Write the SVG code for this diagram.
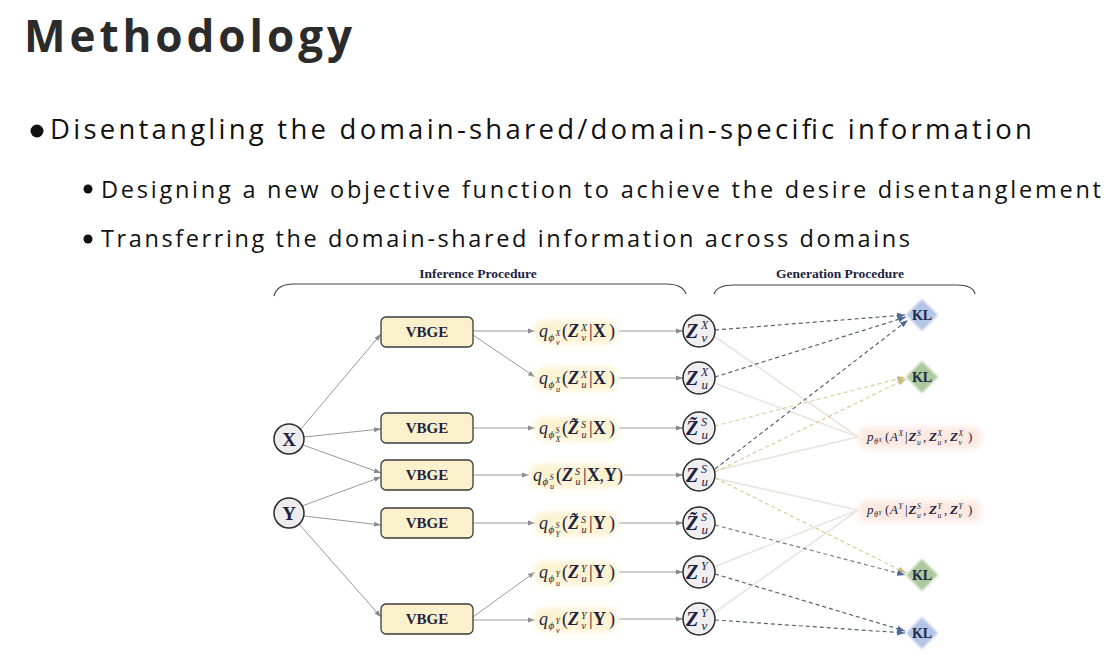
<svg xmlns="http://www.w3.org/2000/svg" width="1118" height="659" viewBox="0 0 1118 659">
<style>
.title{font-family:"Open Sans","Liberation Sans",sans-serif;font-weight:700;fill:#2b2b2b}
.b1{font-family:"Open Sans","Liberation Sans",sans-serif;fill:#111}
.hdr{font-family:"Liberation Serif",serif;font-weight:700;font-size:13.5px;fill:#1c2340;text-anchor:middle}
.brace{fill:none;stroke:#444;stroke-width:1.2}
.vb rect{fill:#fbf0cc;stroke:#3a3a3a;stroke-width:1.3}
.vb text{font-family:"Liberation Serif",serif;font-weight:700;font-size:15px;fill:#1c2340;text-anchor:middle}
.in circle{fill:#efecef;stroke:#2a2a2a;stroke-width:1.5}
.in text{font-family:"Liberation Serif",serif;font-weight:700;font-size:19px;fill:#1c2340;text-anchor:middle}
.zc circle{fill:#f0eef1;stroke:#2a2a2a;stroke-width:1.5}
.m{font-family:"Liberation Serif",serif;fill:#1c2340}
.zb{font-family:"Liberation Serif",serif;font-weight:700;font-style:italic;fill:#1c2340}
.it{font-family:"Liberation Serif",serif;font-style:italic;fill:#1c2340}
.bd{font-family:"Liberation Serif",serif;font-weight:700;fill:#1c2340}
.kl text{font-family:"Liberation Serif",serif;font-weight:700;font-size:14px;fill:#1c2a4a;text-anchor:middle}
.solid{stroke:#9a9a9a;stroke-width:1;fill:none;marker-end:url(#ag)}
.faint{stroke:#ebe4de;stroke-width:1.6;fill:none}
.dd{stroke:#5b6170;stroke-width:1.2;stroke-dasharray:4 3;fill:none;marker-end:url(#ad)}
.dy{stroke:#d9cc96;stroke-width:1.2;stroke-dasharray:4 3;fill:none;marker-end:url(#ay)}
</style>
<defs>
<marker id="ag" markerUnits="userSpaceOnUse" markerWidth="8" markerHeight="6" refX="7" refY="3" orient="auto"><path d="M0,0.5 L7,3 L0,5.5 Z" fill="#8a8a8a"/></marker>
<marker id="ad" markerUnits="userSpaceOnUse" markerWidth="9" markerHeight="7" refX="8" refY="3.5" orient="auto"><path d="M0,0.5 L8,3.5 L0,6.5 Z" fill="#4f6a95"/></marker>
<marker id="ay" markerUnits="userSpaceOnUse" markerWidth="9" markerHeight="7" refX="8" refY="3.5" orient="auto"><path d="M0,0.5 L8,3.5 L0,6.5 Z" fill="#c8bb80"/></marker>
<filter id="blur" x="-20%" y="-50%" width="140%" height="200%"><feGaussianBlur stdDeviation="3"/></filter>
<filter id="soft" x="-30%" y="-30%" width="160%" height="160%"><feGaussianBlur stdDeviation="1"/></filter>
</defs>
<rect width="1118" height="659" fill="#ffffff"/>

<g id="slide-text">
<text class="title" x="24" y="52" font-size="44" textLength="328" lengthAdjust="spacing">Methodology</text>
<circle cx="37" cy="131" r="6.5" fill="#111"/>
<text class="b1" x="50" y="139" font-size="27.5" textLength="982" lengthAdjust="spacing">Disentangling the domain-shared/domain-specific information</text>
<circle cx="88" cy="189" r="4.5" fill="#111"/>
<text class="b1" x="101" y="198" font-size="23.5" textLength="1000" lengthAdjust="spacing">Designing a new objective function to achieve the desire disentanglement</text>
<circle cx="88" cy="239" r="4.5" fill="#111"/>
<text class="b1" x="101" y="247" font-size="23.5" textLength="809" lengthAdjust="spacing">Transferring the domain-shared information across domains</text>
</g>

<g id="headers">
<text class="hdr" x="478" y="278">Inference Procedure</text>
<path class="brace" d="M274,296 C276,288 282,284 294,284 L666,284 C678,284 684,288 686,294"/>
<text class="hdr" x="840" y="278">Generation Procedure</text>
<path class="brace" d="M714,294 C716,288 722,285 734,285 L956,285 C968,285 974,288 975,294"/>
</g>

<g id="connectors">
<line class="solid" x1="300" y1="430" x2="381" y2="334"/>
<line class="solid" x1="304" y1="437" x2="381" y2="429"/>
<line class="solid" x1="303" y1="445" x2="381" y2="473"/>
<line class="solid" x1="302" y1="506" x2="381" y2="477"/>
<line class="solid" x1="304" y1="516" x2="381" y2="525"/>
<line class="solid" x1="299" y1="524" x2="381" y2="617"/>
<line class="solid" x1="473" y1="331" x2="535" y2="331"/>
<line class="solid" x1="473" y1="335" x2="535" y2="377"/>
<line class="solid" x1="473" y1="428" x2="535" y2="428"/>
<line class="solid" x1="473" y1="475" x2="529" y2="475"/>
<line class="solid" x1="473" y1="523" x2="535" y2="523"/>
<line class="solid" x1="473" y1="617" x2="535" y2="572"/>
<line class="solid" x1="473" y1="620" x2="535" y2="620"/>
<line class="solid" x1="619" y1="331" x2="683" y2="331"/>
<line class="solid" x1="619" y1="378" x2="683" y2="378"/>
<line class="solid" x1="619" y1="428" x2="683" y2="428"/>
<line class="solid" x1="624" y1="475" x2="683" y2="475"/>
<line class="solid" x1="619" y1="523" x2="683" y2="523"/>
<line class="solid" x1="619" y1="572" x2="683" y2="572"/>
<line class="solid" x1="619" y1="619" x2="683" y2="619"/>
<line class="faint" x1="714" y1="336" x2="858" y2="437"/>
<line class="faint" x1="714" y1="383" x2="858" y2="437"/>
<line class="faint" x1="714" y1="471" x2="858" y2="437"/>
<line class="faint" x1="714" y1="478" x2="858" y2="510"/>
<line class="faint" x1="714" y1="567" x2="858" y2="510"/>
<line class="faint" x1="714" y1="613" x2="858" y2="510"/>
<line class="dd" x1="715" y1="330" x2="905" y2="315"/>
<line class="dd" x1="715" y1="377" x2="906" y2="317"/>
<line class="dd" x1="715" y1="469" x2="908" y2="320"/>
<line class="dy" x1="715" y1="426" x2="905" y2="377"/>
<line class="dy" x1="715" y1="472" x2="906" y2="379"/>
<line class="dy" x1="715" y1="478" x2="906" y2="573"/>
<line class="dd" x1="715" y1="525" x2="905" y2="575" style="stroke:#7a7f88"/>
<line class="dd" x1="715" y1="574" x2="905" y2="631"/>
<line class="dd" x1="715" y1="620" x2="905" y2="633"/>
</g>

<g id="node-X" class="in"><circle cx="289" cy="439" r="15"/><text x="289" y="445.5">X</text></g>
<g id="node-Y" class="in"><circle cx="289" cy="513" r="15"/><text x="289" y="519.5">Y</text></g>

<g id="vbge-1" class="vb"><rect x="381" y="317" width="92" height="30" rx="5"/><text x="427" y="337">VBGE</text></g>
<g id="vbge-2" class="vb"><rect x="381" y="413" width="92" height="30" rx="5"/><text x="427" y="433">VBGE</text></g>
<g id="vbge-3" class="vb"><rect x="381" y="460" width="92" height="30" rx="5"/><text x="427" y="480">VBGE</text></g>
<g id="vbge-4" class="vb"><rect x="381" y="508" width="92" height="30" rx="5"/><text x="427" y="528">VBGE</text></g>
<g id="vbge-5" class="vb"><rect x="381" y="604" width="92" height="30" rx="5"/><text x="427" y="624">VBGE</text></g>

<g id="q-1" transform="translate(539,337)">
<rect x="-4" y="-17" width="82" height="24" rx="8" fill="#fcf3d2" filter="url(#blur)"/>
<text class="it" x="0" y="0" font-size="18">q</text><text class="it" x="9.5" y="4" font-size="11">ϕ</text><text class="it" x="16.5" y="-1" font-size="8">X</text><text class="it" x="17" y="8" font-size="8">v</text>
<text class="m" x="23" y="0" font-size="18">(</text><text class="zb" x="29" y="0" font-size="18">Z</text><text class="it" x="42" y="-6" font-size="10">X</text><text class="it" x="42.5" y="4" font-size="10">v</text>
<text class="m" x="50" y="0" font-size="18">|</text><text class="bd" x="54" y="0" font-size="18">X</text><text class="m" x="70" y="0" font-size="18">)</text>
</g>
<g id="q-2" transform="translate(539,384)">
<rect x="-4" y="-17" width="82" height="24" rx="8" fill="#fcf3d2" filter="url(#blur)"/>
<text class="it" x="0" y="0" font-size="18">q</text><text class="it" x="9.5" y="4" font-size="11">ϕ</text><text class="it" x="16.5" y="-1" font-size="8">X</text><text class="it" x="17" y="8" font-size="8">u</text>
<text class="m" x="23" y="0" font-size="18">(</text><text class="zb" x="29" y="0" font-size="18">Z</text><text class="it" x="42" y="-6" font-size="10">X</text><text class="it" x="42.5" y="4" font-size="10">u</text>
<text class="m" x="50" y="0" font-size="18">|</text><text class="bd" x="54" y="0" font-size="18">X</text><text class="m" x="70" y="0" font-size="18">)</text>
</g>
<g id="q-3" transform="translate(539,434)">
<rect x="-4" y="-17" width="82" height="24" rx="8" fill="#fcf3d2" filter="url(#blur)"/>
<text class="it" x="0" y="0" font-size="18">q</text><text class="it" x="9.5" y="4" font-size="11">ϕ</text><text class="it" x="16.5" y="-1" font-size="8">S</text><text class="it" x="16.5" y="8" font-size="8">X</text>
<text class="m" x="23" y="0" font-size="18">(</text><text class="zb" x="29" y="0" font-size="18">Z&#771;</text><text class="it" x="42" y="-6" font-size="10">S</text><text class="it" x="42.5" y="4" font-size="10">u</text>
<text class="m" x="50" y="0" font-size="18">|</text><text class="bd" x="54" y="0" font-size="18">X</text><text class="m" x="70" y="0" font-size="18">)</text>
</g>
<g id="q-4" transform="translate(533,481)">
<rect x="-4" y="-17" width="94" height="24" rx="8" fill="#fcf3d2" filter="url(#blur)"/>
<text class="it" x="0" y="0" font-size="18">q</text><text class="it" x="9.5" y="4" font-size="11">ϕ</text><text class="it" x="16.5" y="-1" font-size="8">S</text><text class="it" x="17" y="8" font-size="8">u</text>
<text class="m" x="23" y="0" font-size="18">(</text><text class="zb" x="29" y="0" font-size="18">Z</text><text class="it" x="42" y="-6" font-size="10">S</text><text class="it" x="42.5" y="4" font-size="10">u</text>
<text class="m" x="50" y="0" font-size="18">|</text><text class="bd" x="54" y="0" font-size="18">X</text><text class="m" x="66.5" y="0" font-size="18">,</text><text class="bd" x="71" y="0" font-size="18">Y</text><text class="m" x="84" y="0" font-size="18">)</text>
</g>
<g id="q-5" transform="translate(539,529)">
<rect x="-4" y="-17" width="82" height="24" rx="8" fill="#fcf3d2" filter="url(#blur)"/>
<text class="it" x="0" y="0" font-size="18">q</text><text class="it" x="9.5" y="4" font-size="11">ϕ</text><text class="it" x="16.5" y="-1" font-size="8">S</text><text class="it" x="16.5" y="8" font-size="8">Y</text>
<text class="m" x="23" y="0" font-size="18">(</text><text class="zb" x="29" y="0" font-size="18">Z&#771;</text><text class="it" x="42" y="-6" font-size="10">S</text><text class="it" x="42.5" y="4" font-size="10">u</text>
<text class="m" x="50" y="0" font-size="18">|</text><text class="bd" x="54" y="0" font-size="18">Y</text><text class="m" x="70" y="0" font-size="18">)</text>
</g>
<g id="q-6" transform="translate(539,578)">
<rect x="-4" y="-17" width="82" height="24" rx="8" fill="#fcf3d2" filter="url(#blur)"/>
<text class="it" x="0" y="0" font-size="18">q</text><text class="it" x="9.5" y="4" font-size="11">ϕ</text><text class="it" x="16.5" y="-1" font-size="8">Y</text><text class="it" x="17" y="8" font-size="8">u</text>
<text class="m" x="23" y="0" font-size="18">(</text><text class="zb" x="29" y="0" font-size="18">Z</text><text class="it" x="42" y="-6" font-size="10">Y</text><text class="it" x="42.5" y="4" font-size="10">u</text>
<text class="m" x="50" y="0" font-size="18">|</text><text class="bd" x="54" y="0" font-size="18">Y</text><text class="m" x="70" y="0" font-size="18">)</text>
</g>
<g id="q-7" transform="translate(539,625)">
<rect x="-4" y="-17" width="82" height="24" rx="8" fill="#fcf3d2" filter="url(#blur)"/>
<text class="it" x="0" y="0" font-size="18">q</text><text class="it" x="9.5" y="4" font-size="11">ϕ</text><text class="it" x="16.5" y="-1" font-size="8">Y</text><text class="it" x="17" y="8" font-size="8">v</text>
<text class="m" x="23" y="0" font-size="18">(</text><text class="zb" x="29" y="0" font-size="18">Z</text><text class="it" x="42" y="-6" font-size="10">Y</text><text class="it" x="42.5" y="4" font-size="10">v</text>
<text class="m" x="50" y="0" font-size="18">|</text><text class="bd" x="54" y="0" font-size="18">Y</text><text class="m" x="70" y="0" font-size="18">)</text>
</g>

<g id="z-1" class="zc"><circle cx="699" cy="331" r="16"/><text class="zb" x="686" y="338" font-size="20">Z</text><text class="it" x="701" y="329" font-size="12">X</text><text class="it" x="701.5" y="342" font-size="13">v</text></g>
<g id="z-2" class="zc"><circle cx="699" cy="378" r="16"/><text class="zb" x="686" y="385" font-size="20">Z</text><text class="it" x="701" y="376" font-size="12">X</text><text class="it" x="701.5" y="389" font-size="13">u</text></g>
<g id="z-3" class="zc"><circle cx="699" cy="428" r="16"/><text class="zb" x="686" y="435" font-size="20">Z&#771;</text><text class="it" x="701" y="426" font-size="12">S</text><text class="it" x="701.5" y="439" font-size="13">u</text></g>
<g id="z-4" class="zc"><circle cx="699" cy="475" r="16"/><text class="zb" x="686" y="482" font-size="20">Z</text><text class="it" x="701" y="473" font-size="12">S</text><text class="it" x="701.5" y="486" font-size="13">u</text></g>
<g id="z-5" class="zc"><circle cx="699" cy="523" r="16"/><text class="zb" x="686" y="530" font-size="20">Z&#771;</text><text class="it" x="701" y="521" font-size="12">S</text><text class="it" x="701.5" y="534" font-size="13">u</text></g>
<g id="z-6" class="zc"><circle cx="699" cy="572" r="16"/><text class="zb" x="686" y="579" font-size="20">Z</text><text class="it" x="701" y="570" font-size="12">Y</text><text class="it" x="701.5" y="583" font-size="13">u</text></g>
<g id="z-7" class="zc"><circle cx="699" cy="619" r="16"/><text class="zb" x="686" y="626" font-size="20">Z</text><text class="it" x="701" y="617" font-size="12">Y</text><text class="it" x="701.5" y="630" font-size="13">v</text></g>

<g id="kl-1" class="kl"><path d="M922,299 L938,315 L922,331 L906,315 Z" fill="#b5c5e6" filter="url(#soft)"/><text x="922" y="320">KL</text></g>
<g id="kl-2" class="kl"><path d="M922,361 L938,377 L922,393 L906,377 Z" fill="#abc99c" filter="url(#soft)"/><text x="922" y="382">KL</text></g>
<g id="kl-3" class="kl"><path d="M922,559 L938,575 L922,591 L906,575 Z" fill="#abc99c" filter="url(#soft)"/><text x="922" y="580">KL</text></g>
<g id="kl-4" class="kl"><path d="M922,617 L938,633 L922,649 L906,633 Z" fill="#b5c5e6" filter="url(#soft)"/><text x="922" y="638">KL</text></g>

<g id="p-x" transform="translate(867,441)">
<rect x="-8" y="-14" width="122" height="22" rx="8" fill="#fbe9e1" filter="url(#blur)"/>
<text class="it" x="0" y="0" font-size="13">p</text><text class="it" x="7" y="3" font-size="8">θ</text><text class="it" x="11.5" y="0.5" font-size="5.5">X</text>
<text class="m" x="18" y="0" font-size="13">(</text><text class="it" x="23" y="0" font-size="13">A</text><text class="it" x="31.5" y="-5" font-size="7.5">X</text>
<text class="m" x="38" y="0" font-size="13">|</text>
<text class="zb" x="41.5" y="0" font-size="13">Z</text><text class="it" x="50" y="-5" font-size="7.5">S</text><text class="it" x="50" y="3.5" font-size="7.5">u</text>
<text class="m" x="56" y="0" font-size="13">,</text>
<text class="zb" x="62" y="0" font-size="13">Z</text><text class="it" x="70.5" y="-5" font-size="7.5">X</text><text class="it" x="70.5" y="3.5" font-size="7.5">u</text>
<text class="m" x="77" y="0" font-size="13">,</text>
<text class="zb" x="83" y="0" font-size="13">Z</text><text class="it" x="91.5" y="-5" font-size="7.5">X</text><text class="it" x="91.5" y="3.5" font-size="7.5">v</text>
<text class="m" x="101" y="0" font-size="13">)</text>
</g>
<g id="p-y" transform="translate(867,514)">
<rect x="-8" y="-14" width="122" height="22" rx="8" fill="#fbe9e1" filter="url(#blur)"/>
<text class="it" x="0" y="0" font-size="13">p</text><text class="it" x="7" y="3" font-size="8">θ</text><text class="it" x="11.5" y="0.5" font-size="5.5">Y</text>
<text class="m" x="18" y="0" font-size="13">(</text><text class="it" x="23" y="0" font-size="13">A</text><text class="it" x="31.5" y="-5" font-size="7.5">Y</text>
<text class="m" x="38" y="0" font-size="13">|</text>
<text class="zb" x="41.5" y="0" font-size="13">Z</text><text class="it" x="50" y="-5" font-size="7.5">S</text><text class="it" x="50" y="3.5" font-size="7.5">u</text>
<text class="m" x="56" y="0" font-size="13">,</text>
<text class="zb" x="62" y="0" font-size="13">Z</text><text class="it" x="70.5" y="-5" font-size="7.5">Y</text><text class="it" x="70.5" y="3.5" font-size="7.5">u</text>
<text class="m" x="77" y="0" font-size="13">,</text>
<text class="zb" x="83" y="0" font-size="13">Z</text><text class="it" x="91.5" y="-5" font-size="7.5">Y</text><text class="it" x="91.5" y="3.5" font-size="7.5">v</text>
<text class="m" x="101" y="0" font-size="13">)</text>
</g>
</svg>
